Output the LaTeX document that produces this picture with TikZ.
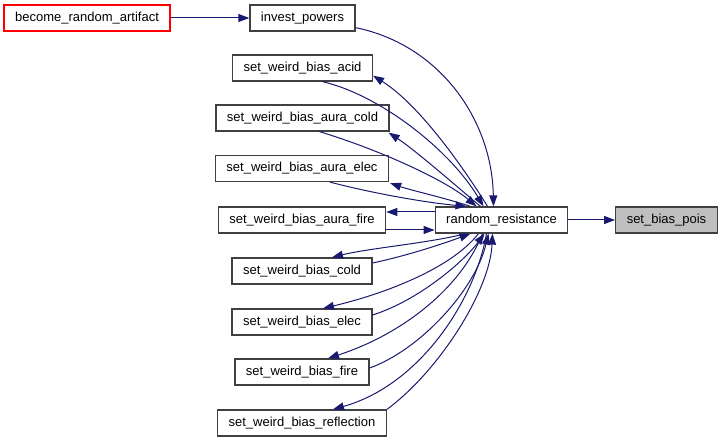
\documentclass[tikz,border=0pt]{standalone}
\usepackage{fontspec}
\setmainfont{Liberation Sans}
\usetikzlibrary{arrows.meta}
\definecolor{edgeblue}{HTML}{191970}
\definecolor{boxgray}{HTML}{404040}
\definecolor{hilite}{HTML}{BFBFBF}
\begin{document}
\begin{tikzpicture}[x=1pt, y=-1pt,
  fn/.style={draw=boxgray, line width=1.3pt, fill=white, minimum height=26pt,
    inner xsep=11pt, inner ysep=0pt, font=\fontsize{13}{15}\selectfont},
  edge/.style={draw=edgeblue, line width=1pt, -{Triangle[length=11pt,width=8pt]}}]
  \useasboundingbox (0,0) rectangle (724,443);
  % nodes
  \node[fn, draw=red] (bra) at (87,18) {become\_random\_artifact};
  \node[fn] (invest) at (302.5,18) {invest\_powers};
  \node[fn] (acid) at (302.5,68) {set\_weird\_bias\_acid};
  \node[fn] (acold) at (302.5,118) {set\_weird\_bias\_aura\_cold};
  \node[fn] (aelec) at (302,168.5) {set\_weird\_bias\_aura\_elec};
  \node[fn] (afire) at (302,220) {set\_weird\_bias\_aura\_fire};
  \node[fn] (rr) at (501.5,220) {random\_resistance};
  \node[fn, fill=hilite] (pois) at (666.5,220) {set\_bias\_pois};
  \node[fn] (cold) at (302,271) {set\_weird\_bias\_cold};
  \node[fn] (elec) at (302,322) {set\_weird\_bias\_elec};
  \node[fn] (fire) at (302,372) {set\_weird\_bias\_fire};
  \node[fn] (refl) at (302,423) {set\_weird\_bias\_reflection};
  % edges
  \draw[edge] (bra) -- (invest);
  \draw[edge] (rr) -- (pois);
  \draw[edge] ([yshift=4pt]invest.south east) .. controls (440,45) and (492,120) .. ([xshift=-8pt]rr.north);
  \draw[edge] ([xshift=-14pt]rr.north) .. controls (465,170) and (420,105) .. ([yshift=6pt]acid.south east);
  \draw[edge] ([xshift=20pt]acid.south) .. controls (380,95) and (450,150) .. ([xshift=-18pt]rr.north);
  \draw[edge] ([xshift=-21pt]rr.north) .. controls (455,185) and (415,150) .. ([xshift=-1pt,yshift=-1pt]acold.south east);
  \draw[edge] ([xshift=17pt]acold.south) .. controls (380,150) and (445,180) .. ([xshift=-25pt]rr.north);
  \draw[edge] ([xshift=-31pt]rr.north) .. controls (445,198) and (410,190) .. ([xshift=1pt,yshift=-1pt]aelec.south east);
  \draw[edge] ([xshift=28pt]aelec.south) .. controls (380,195) and (430,203) .. ([xshift=-35pt]rr.north);
  \draw[edge] ([yshift=8pt]rr.west) -- ([yshift=8pt]afire.east);
  \draw[edge] ([yshift=-10pt]afire.east) -- ([yshift=-10pt]rr.west);
  \draw[edge] ([xshift=-36pt]rr.south) .. controls (430,243) and (370,248) .. ([xshift=30pt]cold.north);
  \draw[edge] ([yshift=8pt]cold.east) .. controls (410,255) and (445,243) .. ([xshift=-31pt]rr.south);
  \draw[edge] ([xshift=-23pt]rr.south) .. controls (450,270) and (380,295) .. ([xshift=21pt]elec.north);
  \draw[edge] ([yshift=7pt]elec.east) .. controls (420,300) and (465,260) .. ([xshift=-17pt]rr.south);
  \draw[edge] ([xshift=-19pt]rr.south) .. controls (460,290) and (400,335) .. ([xshift=26pt]fire.north);
  \draw[edge] ([yshift=4pt]fire.east) .. controls (420,350) and (475,290) .. ([xshift=-13pt]rr.south);
  \draw[edge] ([xshift=-15pt]rr.south) .. controls (475,300) and (420,385) .. ([xshift=31pt]refl.north);
  \draw[edge] (refl.north east) .. controls (440,370) and (490,290) .. ([xshift=-9pt]rr.south);
\end{tikzpicture}
\end{document}
